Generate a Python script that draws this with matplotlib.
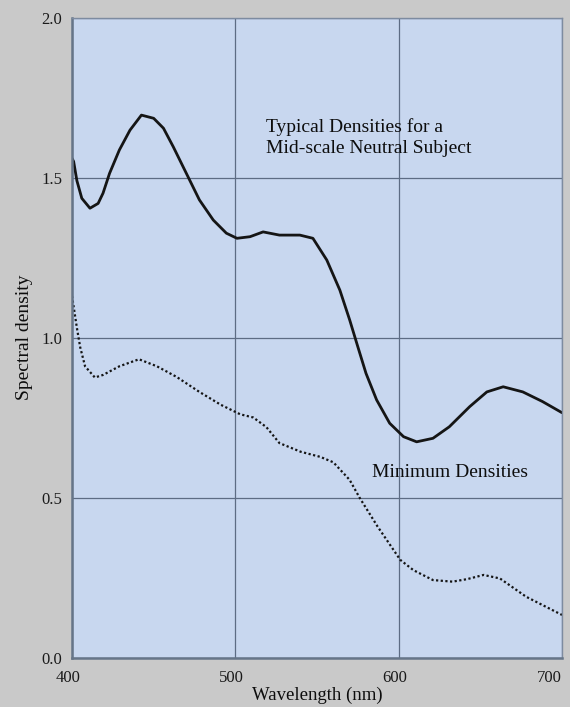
import matplotlib
matplotlib.use("Agg")
import matplotlib.pyplot as plt
import matplotlib.transforms as mtransforms

# Values
typical_wl = [400, 401, 403, 406, 411, 416, 419, 423, 429, 435.5, 442.5, 450, 456, 462,
              470, 478, 486.5, 494.5, 501, 509, 517, 527, 539.5, 547.5, 556, 564, 570,
              575, 580, 586.5, 594.5, 603, 611, 621, 631, 643.5, 654, 664, 676, 688, 700]
typical_density = [1.56, 1.55, 1.49, 1.435, 1.404, 1.419, 1.451, 1.513, 1.586, 1.648,
                   1.695, 1.685, 1.654, 1.596, 1.513, 1.43, 1.367, 1.326, 1.31, 1.315,
                   1.33, 1.32, 1.32, 1.31, 1.242, 1.148, 1.055, 0.971, 0.888, 0.805,
                   0.732, 0.69, 0.674, 0.685, 0.721, 0.784, 0.83, 0.846, 0.83, 0.80, 0.765]

minimum_wl = [400, 403, 405, 408, 414, 419, 429, 441, 452, 464, 478, 491, 503, 511, 519,
              527, 540, 552, 560, 570, 576, 587, 601, 609, 621, 633, 642, 652, 662, 678, 700]
minimum_density = [1.13, 1.03, 0.97, 0.91, 0.875, 0.883, 0.91, 0.932, 0.91, 0.877, 0.83,
                   0.79, 0.76, 0.75, 0.72, 0.67, 0.643, 0.627, 0.61, 0.555, 0.50, 0.41,
                   0.305, 0.273, 0.242, 0.237, 0.245, 0.258, 0.247, 0.19, 0.133]

x_ticks = [400, 500, 600, 700]
y_ticks = [0.0, 0.5, 1.0, 1.5, 2.0]

plt.rcParams['font.family'] = ['Liberation Serif', 'DejaVu Serif']

fig = plt.figure(figsize=(5.7, 7.07), dpi=100, facecolor='#c9c9c9')
ax = fig.add_axes([72 / 570, 49.5 / 707, 490 / 570, 640 / 707])
ax.set_facecolor('#c8d7ef')

ax.plot(typical_wl, typical_density, color='#151515', lw=2.0,
        solid_capstyle='round', solid_joinstyle='round')
ax.plot(minimum_wl, minimum_density, color='#151515', lw=1.6,
        linestyle=(0, (1, 1.1)))

ax.set_xlim(400, 700)
ax.set_ylim(0, 2.0)
ax.set_xticks(x_ticks)
ax.set_yticks(y_ticks)
ax.set_yticklabels([f"{v:.1f}" for v in y_ticks])
ax.tick_params(length=0, labelsize=12, colors='#1a1a1a')
ax.tick_params(axis='y', pad=7)
ax.tick_params(axis='x', pad=9)

# x tick labels sit slightly left of their gridlines; the last one is right-aligned
shift = mtransforms.ScaledTranslation(-4 / 100, 0, fig.dpi_scale_trans)
xt = ax.get_xticklabels()
for lab in xt[:-1]:
    lab.set_transform(lab.get_transform() + shift)
xt[-1].set_ha('right')

ax.grid(True, color='#5d6c84', lw=0.9)
ax.set_axisbelow(True)

for side in ['top', 'right']:
    ax.spines[side].set_color('#7d8ba0')
    ax.spines[side].set_linewidth(1.0)
for side in ['left', 'bottom']:
    ax.spines[side].set_color('#667588')
    ax.spines[side].set_linewidth(1.8)

ax.set_xlabel('Wavelength (nm)', fontsize=13.5, labelpad=0.5, color='#0d0d0d')
ax.set_ylabel('Spectral density', fontsize=14, labelpad=6, color='#0d0d0d')

ax.text(519, 1.625, 'Typical Densities for a\nMid-scale Neutral Subject',
        fontsize=14, ha='left', va='center', color='#0d0d0d', linespacing=1.25)
ax.text(583.5, 0.577, 'Minimum Densities', fontsize=14, ha='left', va='center',
        color='#0d0d0d')

fig.savefig('out.png', dpi=100, facecolor=fig.get_facecolor())
